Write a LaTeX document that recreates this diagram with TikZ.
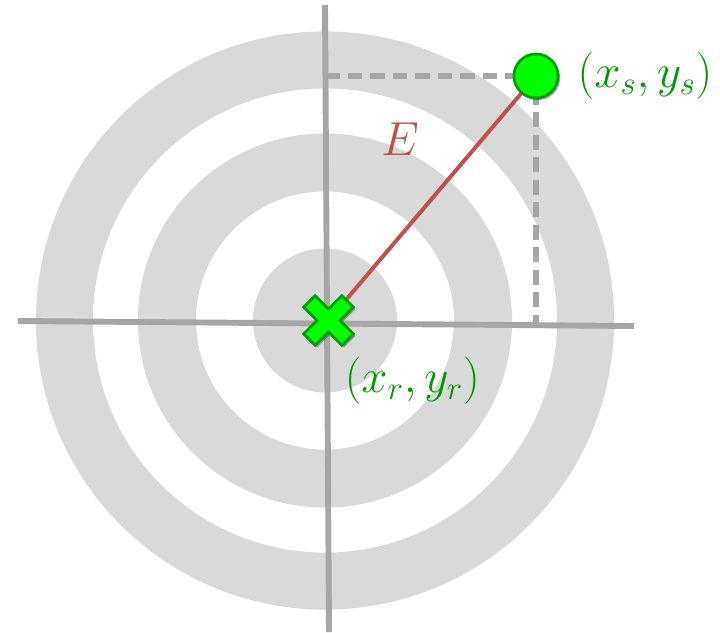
\RequirePackage{fix-cm}
\documentclass[tikz,border=0pt]{standalone}
\usetikzlibrary{positioning, shadows, calc}
\definecolor{ringgray}{RGB}{217,217,217}
\definecolor{axisgray}{RGB}{166,166,166}
\definecolor{distred}{RGB}{192,80,77}
\definecolor{markgreen}{RGB}{0,255,0}
\definecolor{edgegreen}{RGB}{0,160,0}
\definecolor{textgreen}{RGB}{0,153,0}
\tikzset{
  ring/.style={fill=ringgray, even odd rule},
  axis/.style={draw=axisgray, line width=4.2pt},
  guide/.style={draw=axisgray, line width=3.6pt, dash pattern=on 10.5pt off 5.5pt},
  errline/.style={draw=distred, line width=2.8pt},
  softshadow/.style={drop shadow={shadow xshift=1.5pt, shadow yshift=-1.5pt, opacity=0.35, fill=black}},
  srcdot/.style={circle, minimum size=1.1cm, inner sep=0pt, fill=markgreen, draw=edgegreen, line width=2pt, softshadow},
  marker/.style={fill=markgreen, draw=edgegreen, line width=2pt, line join=miter, softshadow},
  coordlabel/.style={text=textgreen, font=\fontsize{33.5}{40}\selectfont, inner sep=0pt},
  elabel/.style={text=distred, font=\fontsize{34}{40}\selectfont, inner sep=0pt}
}

\begin{document}
\begin{tikzpicture}[x=0.025cm, y=-0.025cm]
  \useasboundingbox (0,0) rectangle (720,632);

  % 1. Anillos de la diana
  \coordinate (ctr) at (325,320.5);
  \fill[ring] (ctr) circle (7.225cm) circle (5.8cm);
  \fill[ring] (ctr) circle (4.675cm) circle (3.225cm);
  \fill[ring] (ctr) circle (1.8cm);

  % 2. Ejes
  \coordinate (xl) at (18,321);
  \coordinate (xr) at (634,326);
  \coordinate (yt) at (325,5);
  \coordinate (yb) at (329,632);
  \draw[axis] (xl) -- (xr);
  \draw[axis] (yt) -- (yb);

  % 3. Fuente, receptor y distancia
  \coordinate (src) at (536,76);
  \coordinate (rcv) at (328.5,320.5);
  \draw[guide] (src -| yt) -- (src) -- (src |- xr);
  \draw[errline] (rcv) -- (src);
  \node[elabel] (elbl) at (400,139) {$E$};

  \begin{scope}[shift={(rcv)}, rotate=45]
    \draw[marker] (-8,-27) -- (8,-27) -- (8,-8) -- (27,-8) -- (27,8) -- (8,8)
      -- (8,27) -- (-8,27) -- (-8,8) -- (-27,8) -- (-27,-8) -- (-8,-8) -- cycle;
  \end{scope}
  \node[srcdot] (srcdot) at (src) {};

  % 4. Etiquetas
  \node[coordlabel, right=0.45cm of srcdot] (srclbl) {$(x_s,y_s)$};
  \node[coordlabel, below right=0.9cm and 0.4cm of rcv] (rcvlbl) {$(x_r,y_r)$};
\end{tikzpicture}
\end{document}
